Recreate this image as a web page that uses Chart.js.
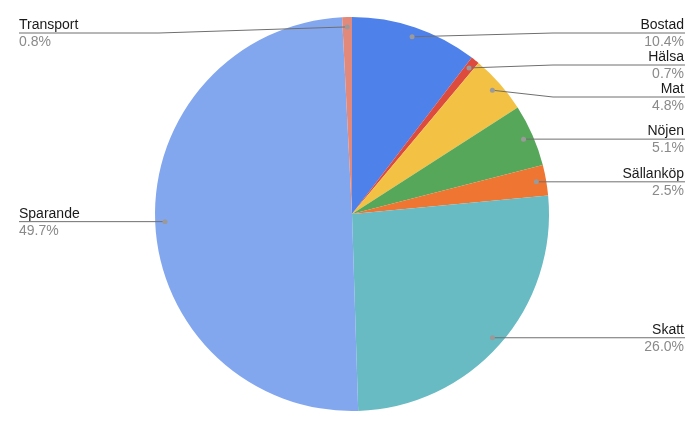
<!DOCTYPE html>
<html lang="sv">
<head>
    <meta charset="utf-8" />
    <title>Budget</title>
    <style>
        html, body { margin: 0; padding: 0; background: #fff; }
        #wrap { width: 690px; height: 428px; }
    </style>
</head>
<body>
    <div id="wrap"><canvas id="myChart" width="690" height="428"></canvas></div>

    <script src="https://cdn.jsdelivr.net/npm/chart.js@4.4.0/dist/chart.umd.min.js"></script>
    <script>
        // data
        var labels = ["Bostad", "Hälsa", "Mat", "Nöjen", "Sällanköp", "Skatt", "Sparande", "Transport"];
        var values = [10.4, 0.7, 4.8, 5.1, 2.5, 26.0, 49.7, 0.8];
        var pctLabels = ["10.4%", "0.7%", "4.8%", "5.1%", "2.5%", "26.0%", "49.7%", "0.8%"];
        var sliceColors = ["#4f81eb", "#dd4b3e", "#f3c143", "#57a75b", "#ee7532", "#68bbc3", "#83a7ef", "#e2897c"];

        var FONT = "'Liberation Sans', Arial, sans-serif";

        // place labels on one side, pushing overlapping ones apart around their mean
        function spreadLabels(items, gap, minY, maxY) {
            items.sort(function (a, b) { return a.dy - b.dy; });
            var groups = items.map(function (it) { return { items: [it], top: it.dy }; });
            var changed = true;
            while (changed) {
                changed = false;
                for (var i = 0; i < groups.length; i++) {
                    var g = groups[i];
                    if (g.top < minY) g.top = minY;
                    var bottom = g.top + (g.items.length - 1) * gap;
                    if (bottom > maxY) g.top -= bottom - maxY;
                }
                for (var j = 1; j < groups.length; j++) {
                    var a = groups[j - 1], b = groups[j];
                    if (a.top + a.items.length * gap > b.top) {
                        var all = a.items.concat(b.items);
                        var mean = all.reduce(function (s, it) { return s + it.dy; }, 0) / all.length;
                        groups.splice(j - 1, 2, { items: all, top: mean - (all.length - 1) * gap / 2 });
                        changed = true;
                        break;
                    }
                }
            }
            groups.forEach(function (g) {
                g.items.forEach(function (it, k) { it.ly = g.top + k * gap; });
            });
        }

        var leaderLabels = {
            id: "leaderLabels",
            afterDraw: function (chart) {
                var ctx = chart.ctx;
                var arcs = chart.getDatasetMeta(0).data;
                var left = [], right = [];
                arcs.forEach(function (arc, i) {
                    var mid = (arc.startAngle + arc.endAngle) / 2;
                    var r = arc.outerRadius * 0.95;
                    var it = {
                        i: i,
                        cx: arc.x, R: arc.outerRadius,
                        dx: arc.x + Math.cos(mid) * r,
                        dy: arc.y + Math.sin(mid) * r
                    };
                    (Math.cos(mid) >= 0 ? right : left).push(it);
                });
                spreadLabels(right, 32, 33, 410);
                spreadLabels(left, 32, 33, 410);

                function draw(it, isRight) {
                    var kinkX = isRight ? it.cx + it.R + 4 : it.cx - it.R + 4;
                    var endX = isRight ? 685 : 19;
                    ctx.save();
                    ctx.strokeStyle = "#6f6f6f";
                    ctx.lineWidth = 1;
                    ctx.beginPath();
                    ctx.moveTo(it.dx, it.dy);
                    ctx.lineTo(kinkX, it.ly);
                    ctx.lineTo(endX, it.ly);
                    ctx.stroke();
                    ctx.fillStyle = "#9a9a9a";
                    ctx.beginPath();
                    ctx.arc(it.dx, it.dy, 2.5, 0, Math.PI * 2);
                    ctx.fill();
                    ctx.font = "14px " + FONT;
                    ctx.textAlign = isRight ? "right" : "left";
                    ctx.textBaseline = "alphabetic";
                    var tx = isRight ? 684 : 19;
                    ctx.fillStyle = "#1a1a1a";
                    ctx.fillText(labels[it.i], tx, it.ly - 4);
                    ctx.fillStyle = "#8a8a8a";
                    ctx.fillText(pctLabels[it.i], tx, it.ly + 13);
                    ctx.restore();
                }
                right.forEach(function (it) { draw(it, true); });
                left.forEach(function (it) { draw(it, false); });
            }
        };

        var myChart = new Chart("myChart", {
            type: "pie",
            data: {
                labels: labels,
                datasets: [{
                    data: values,
                    backgroundColor: sliceColors,
                    borderWidth: 0
                }]
            },
            options: {
                responsive: false,
                animation: false,
                layout: { padding: { left: 155, right: 141, top: 17, bottom: 17 } },
                plugins: {
                    legend: { display: false },
                    tooltip: { enabled: false }
                }
            },
            plugins: [leaderLabels]
        });
    </script>
</body>
</html>
